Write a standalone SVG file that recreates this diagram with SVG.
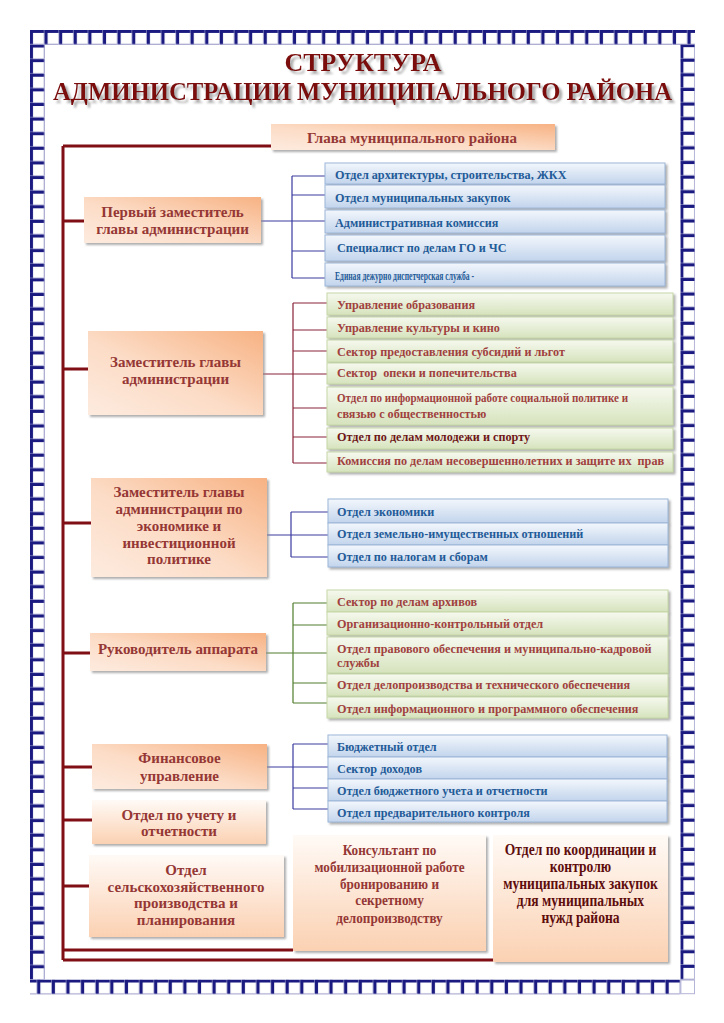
<svg xmlns="http://www.w3.org/2000/svg" width="724" height="1023" viewBox="0 0 724 1023">
<style>
.t{font-family:"Liberation Serif","Times New Roman",serif;font-weight:bold}
.ot{fill:#953735;font-size:15px;text-anchor:middle}
.bt{fill:#1f5b98;font-size:12.2px}
.gt{fill:#a0413e;font-size:12.2px}
.ob{fill:url(#og);filter:url(#sh)}
.ob2{fill:url(#og2);filter:url(#sh)}
.bb{fill:url(#bg);stroke:#9cb6d8;stroke-width:1;filter:url(#sh)}
.gb{fill:url(#gg);stroke:#c6d8a6;stroke-width:1;filter:url(#sh)}
.trunk{stroke:#7f0f14;stroke-width:3;fill:none}
.lb{stroke:#3a3aa0;stroke-width:1.2;fill:none}
.lr{stroke:#8a2238;stroke-width:1.2;fill:none}
.lg{stroke:#4f7d2c;stroke-width:1.2;fill:none}
</style>
<defs>
<linearGradient id="og" x1="1" y1="0" x2="0" y2="1">
<stop offset="0" stop-color="#f7b283"/>
<stop offset="0.55" stop-color="#fcdcc6"/>
<stop offset="1" stop-color="#fdebdf"/>
</linearGradient>
<linearGradient id="og2" x1="0" y1="0" x2="0" y2="1">
<stop offset="0" stop-color="#fffaf6"/>
<stop offset="1" stop-color="#fbd1b2"/>
</linearGradient>
<linearGradient id="bg" x1="0" y1="0" x2="0" y2="1">
<stop offset="0" stop-color="#f3f7fc"/>
<stop offset="1" stop-color="#c2d4ec"/>
</linearGradient>
<linearGradient id="gg" x1="0" y1="0" x2="0" y2="1">
<stop offset="0" stop-color="#f6f9ef"/>
<stop offset="1" stop-color="#d6e3bd"/>
</linearGradient>
<filter id="sh" x="-5%" y="-20%" width="110%" height="150%">
<feDropShadow dx="2" dy="2" stdDeviation="1" flood-color="#8c8c8c" flood-opacity="0.7"/>
</filter>
<filter id="tsh" x="-5%" y="-20%" width="110%" height="150%">
<feDropShadow dx="3" dy="3" stdDeviation="1" flood-color="#9a9a9a" flood-opacity="0.8"/>
</filter>
<pattern id="pA" patternUnits="userSpaceOnUse" x="30" y="30" width="14.615" height="14.615">
<rect x="0.5" y="0.5" width="13.6" height="13.6" fill="#fff" stroke="#b4b4d8" stroke-width="1"/>
<path d="M1.5,14.1 V1.5 H14.1" stroke="#1a1a80" stroke-width="3" fill="none"/>
</pattern>
<pattern id="pB" patternUnits="userSpaceOnUse" x="680.4" y="979.6" width="14.615" height="14.615">
<rect x="0.5" y="0.5" width="13.6" height="13.6" fill="#fff" stroke="#b4b4d8" stroke-width="1"/>
<path d="M1.5,14.1 V1.5 H14.1" stroke="#1a1a80" stroke-width="3" fill="none"/>
</pattern>
</defs>
<rect width="724" height="1023" fill="#fff"/>
<g id="border">
<rect x="30" y="30" width="665" height="14.6" fill="url(#pA)"/>
<rect x="30" y="44.6" width="14.6" height="935" fill="url(#pA)"/>
<rect x="680.4" y="44.6" width="14.6" height="935" fill="url(#pB)"/>
<rect x="30" y="979.6" width="650.4" height="14.6" fill="url(#pB)"/>
<rect x="680.9" y="980.1" width="13.6" height="13.6" fill="#fff" stroke="#b4b4d8" stroke-width="1"/>
</g>
<g id="title" class="t" fill="#7b0c0c" filter="url(#tsh)" text-anchor="middle">
<text x="363" y="71" font-size="26">СТРУКТУРА</text>
<text x="362.5" y="100" font-size="26" textLength="619" lengthAdjust="spacingAndGlyphs">АДМИНИСТРАЦИИ МУНИЦИПАЛЬНОГО РАЙОНА</text>
</g>
<g id="connectors">
<path class="trunk" d="M63,146 V960 M63,146 H271 M63,221 H84 M63,369 H88 M63,523 H91 M63,653 H90 M63,767 H92 M63,820 H92 M63,886 H89 M63,950 H293 M63,960 H493"/>
<path class="lb" d="M261,221 H325 M292,176 V278 M292,176 H325 M292,195 H325 M292,251 H325 M292,278 H325"/>
<path class="lr" d="M263,374 H327 M293,303 V463 M293,303 H327 M293,330 H327 M293,351 H327 M293,408 H327 M293,437 H327 M293,463 H327"/>
<path class="lb" d="M267,535 H328 M291,512 V557 M291,512 H328 M291,557 H328"/>
<path class="lg" d="M266,653 H327 M293,603 V703 M293,603 H327 M293,625 H327 M293,683 H327 M293,703 H327"/>
<path class="lb" d="M267,767 H328 M293,744 V809 M293,744 H328 M293,788 H328 M293,809 H328"/>
</g>
<g id="n-head"><rect class="ob" x="271" y="124" width="284" height="26"/><text class="t ot" x="412" y="143">Глава муниципального района</text></g>
<g id="n-dep1"><rect class="ob" x="84" y="197" width="177" height="46"/><text class="t ot" x="172.5" y="217">Первый заместитель</text><text class="t ot" x="172.5" y="234">главы администрации</text></g>
<g id="n-dep2"><rect class="ob" x="88" y="331" width="175" height="84"/><text class="t ot" x="175.5" y="367">Заместитель главы</text><text class="t ot" x="175.5" y="384">администрации</text></g>
<g id="n-dep3"><rect class="ob" x="91" y="478" width="176" height="99"/><text class="t ot" x="179" y="497">Заместитель главы</text><text class="t ot" x="179" y="514">администрации по</text><text class="t ot" x="179" y="531">экономике и</text><text class="t ot" x="179" y="548">инвестиционной</text><text class="t ot" x="179" y="564">политике</text></g>
<g id="n-app"><rect class="ob" x="90" y="633" width="176" height="38"/><text class="t ot" x="178" y="654">Руководитель аппарата</text></g>
<g id="n-fin"><rect class="ob" x="92" y="744" width="175" height="45"/><text class="t ot" x="179.5" y="763">Финансовое</text><text class="t ot" x="179.5" y="781">управление</text></g>
<g id="n-uchet"><rect class="ob2" x="92" y="800" width="174" height="44"/><text class="t ot" x="179" y="820">Отдел по учету и</text><text class="t ot" x="179" y="836">отчетности</text></g>
<g id="n-selsk"><rect class="ob2" x="89" y="855" width="195" height="82"/><text class="t ot" x="186" y="875">Отдел</text><text class="t ot" x="186" y="892">сельскохозяйственного</text><text class="t ot" x="186" y="908">производства и</text><text class="t ot" x="186" y="925">планирования</text></g>
<g id="n-kons"><rect class="ob2" x="293" y="835" width="193" height="116"/>
<g transform="translate(389.5,0) scale(0.88,1)"><text class="t ot" x="0" y="855" font-size="16">Консультант по</text><text class="t ot" x="0" y="872" font-size="16">мобилизационной работе</text><text class="t ot" x="0" y="889" font-size="16">бронированию и</text><text class="t ot" x="0" y="905" font-size="16">секретному</text><text class="t ot" x="0" y="923" font-size="16">делопроизводству</text></g></g>
<g id="n-koord"><rect class="ob2" x="493" y="835" width="175" height="127"/>
<g transform="translate(580.5,0) scale(0.85,1)" fill="#5e0d0d"><text class="t" text-anchor="middle" font-size="16" x="0" y="855">Отдел по координации и</text><text class="t" text-anchor="middle" font-size="16" x="0" y="872">контролю</text><text class="t" text-anchor="middle" font-size="16" x="0" y="889">муниципальных закупок</text><text class="t" text-anchor="middle" font-size="16" x="0" y="906">для муниципальных</text><text class="t" text-anchor="middle" font-size="16" x="0" y="923">нужд района</text></g></g>
<g id="n-b1a"><rect class="bb" x="325" y="163" width="340" height="21"/><text class="t bt" x="335" y="179">Отдел архитектуры, строительства, ЖКХ</text></g>
<g id="n-b1b"><rect class="bb" x="325" y="185" width="340" height="23"/><text class="t bt" x="335" y="202">Отдел муниципальных закупок</text></g>
<g id="n-b1c"><rect class="bb" x="325" y="210" width="340" height="23"/><text class="t bt" x="335" y="227">Административная комиссия</text></g>
<g id="n-b1d"><rect class="bb" x="325" y="235" width="340" height="26"/><text class="t bt" x="337" y="252">Специалист по делам ГО и ЧС</text></g>
<g id="n-b1e"><rect class="bb" x="325" y="263" width="340" height="23"/><text class="t bt" x="335" y="280" font-size="13" textLength="139" lengthAdjust="spacingAndGlyphs">Единая дежурно диспетчерская служба -</text></g>
<g id="n-g1a"><rect class="gb" x="327" y="293" width="346" height="22"/><text class="t gt" x="337" y="309">Управление образования</text></g>
<g id="n-g1b"><rect class="gb" x="327" y="317" width="346" height="21"/><text class="t gt" x="337" y="332">Управление культуры и кино</text></g>
<g id="n-g1c"><rect class="gb" x="327" y="340" width="346" height="22"/><text class="t gt" x="337" y="356">Сектор предоставления субсидий и льгот</text></g>
<g id="n-g1d"><rect class="gb" x="327" y="363" width="346" height="21"/><text class="t gt" x="337" y="377" xml:space="preserve">Сектор  опеки и попечительства</text></g>
<g id="n-g1e"><rect class="gb" x="327" y="387" width="346" height="38"/><text class="t gt" x="337" y="402" font-size="11" textLength="291" lengthAdjust="spacingAndGlyphs">Отдел по информационной работе социальной политике и</text><text class="t gt" x="337" y="418" font-size="11">связью с общественностью</text></g>
<g id="n-g1f"><rect class="gb" x="327" y="428" width="346" height="21"/><text class="t gt" x="337" y="441" style="fill:#6e1618">Отдел по делам молодежи и спорту</text></g>
<g id="n-g1g"><rect class="gb" x="327" y="452" width="346" height="20"/><text class="t gt" x="337" y="465" xml:space="preserve">Комиссия по делам несовершеннолетних и защите их  прав</text></g>
<g id="n-b2a"><rect class="bb" x="328" y="499" width="340" height="24"/><text class="t bt" x="337" y="516">Отдел экономики</text></g>
<g id="n-b2b"><rect class="bb" x="328" y="523" width="340" height="22"/><text class="t bt" x="337" y="538">Отдел земельно-имущественных отношений</text></g>
<g id="n-b2c"><rect class="bb" x="328" y="545" width="340" height="22"/><text class="t bt" x="337" y="561">Отдел по налогам и сборам</text></g>
<g id="n-g2a"><rect class="gb" x="327" y="590" width="341" height="22"/><text class="t gt" x="337" y="606">Сектор по делам архивов</text></g>
<g id="n-g2b"><rect class="gb" x="327" y="612" width="341" height="23"/><text class="t gt" x="337" y="628">Организационно-контрольный отдел</text></g>
<g id="n-g2c"><rect class="gb" x="327" y="637" width="341" height="36"/><text class="t gt" x="337" y="653">Отдел правового обеспечения и муниципально-кадровой</text><text class="t gt" x="337" y="667">службы</text></g>
<g id="n-g2d"><rect class="gb" x="327" y="674" width="341" height="22"/><text class="t gt" x="337" y="689">Отдел делопроизводства и технического обеспечения</text></g>
<g id="n-g2e"><rect class="gb" x="327" y="697" width="341" height="21"/><text class="t gt" x="337" y="713">Отдел информационного и программного обеспечения</text></g>
<g id="n-b3a"><rect class="bb" x="328" y="735" width="339" height="22"/><text class="t bt" x="337" y="751">Бюджетный отдел</text></g>
<g id="n-b3b"><rect class="bb" x="328" y="757" width="339" height="22"/><text class="t bt" x="337" y="773">Сектор доходов</text></g>
<g id="n-b3c"><rect class="bb" x="328" y="779" width="339" height="22"/><text class="t bt" x="337" y="795">Отдел бюджетного учета и отчетности</text></g>
<g id="n-b3d"><rect class="bb" x="328" y="801" width="339" height="21"/><text class="t bt" x="337" y="817">Отдел предварительного контроля</text></g>
</svg>
